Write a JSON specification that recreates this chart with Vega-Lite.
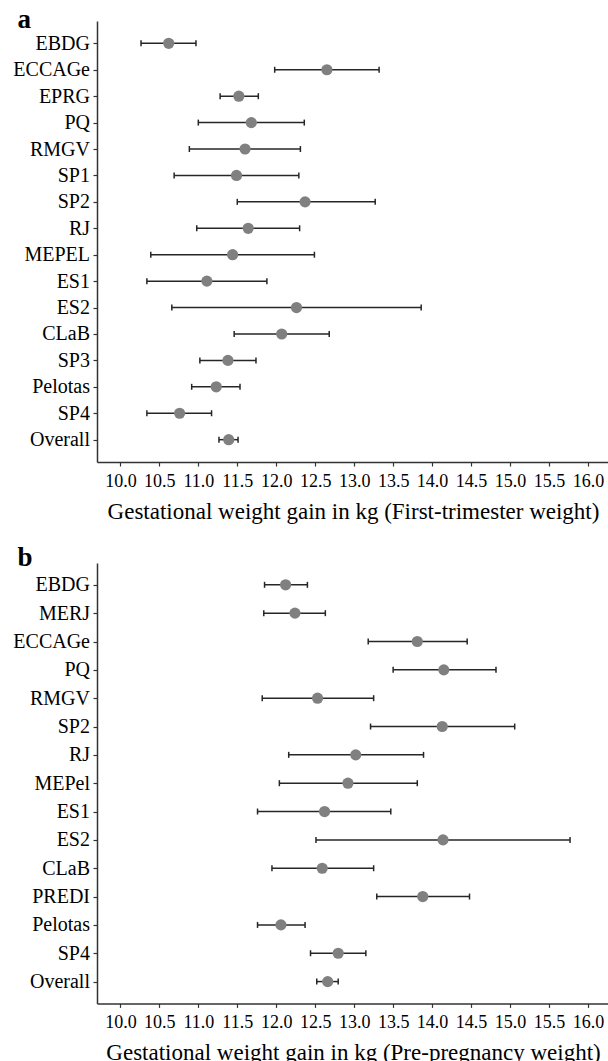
{
  "$schema": "https://vega.github.io/schema/vega-lite/v6.json",
  "padding": {"left": 12, "top": 5, "right": 0, "bottom": 0},
  "background": "white",
  "datasets": {
    "first": [
      {"site": "EBDG", "est": 10.62, "lo": 10.265, "hi": 10.97},
      {"site": "ECCAGe", "est": 12.65, "lo": 11.98, "hi": 13.32},
      {"site": "EPRG", "est": 11.52, "lo": 11.28, "hi": 11.77},
      {"site": "PQ", "est": 11.68, "lo": 11.0, "hi": 12.36},
      {"site": "RMGV", "est": 11.6, "lo": 10.885, "hi": 12.31},
      {"site": "SP1", "est": 11.49, "lo": 10.69, "hi": 12.29},
      {"site": "SP2", "est": 12.37, "lo": 11.5, "hi": 13.27},
      {"site": "RJ", "est": 11.64, "lo": 10.98, "hi": 12.3},
      {"site": "MEPEL", "est": 11.44, "lo": 10.39, "hi": 12.49},
      {"site": "ES1", "est": 11.11, "lo": 10.34, "hi": 11.88},
      {"site": "ES2", "est": 12.26, "lo": 10.66, "hi": 13.86},
      {"site": "CLaB", "est": 12.07, "lo": 11.46, "hi": 12.68},
      {"site": "SP3", "est": 11.38, "lo": 11.02, "hi": 11.74},
      {"site": "Pelotas", "est": 11.23, "lo": 10.915, "hi": 11.535},
      {"site": "SP4", "est": 10.76, "lo": 10.34, "hi": 11.17},
      {"site": "Overall", "est": 11.39, "lo": 11.265, "hi": 11.51}
    ],
    "pre": [
      {"site": "EBDG", "est": 12.12, "lo": 11.85, "hi": 12.4},
      {"site": "MERJ", "est": 12.24, "lo": 11.84, "hi": 12.63},
      {"site": "ECCAGe", "est": 13.81, "lo": 13.18, "hi": 14.45},
      {"site": "PQ", "est": 14.15, "lo": 13.5, "hi": 14.82},
      {"site": "RMGV", "est": 12.53, "lo": 11.82, "hi": 13.25},
      {"site": "SP2", "est": 14.13, "lo": 13.21, "hi": 15.06},
      {"site": "RJ", "est": 13.02, "lo": 12.16, "hi": 13.89},
      {"site": "MEPel", "est": 12.92, "lo": 12.04, "hi": 13.81},
      {"site": "ES1", "est": 12.62, "lo": 11.76, "hi": 13.47},
      {"site": "ES2", "est": 14.14, "lo": 12.51, "hi": 15.77},
      {"site": "CLaB", "est": 12.59, "lo": 11.945, "hi": 13.25},
      {"site": "PREDI", "est": 13.88, "lo": 13.29, "hi": 14.48},
      {"site": "Pelotas", "est": 12.06, "lo": 11.76, "hi": 12.37},
      {"site": "SP4", "est": 12.795, "lo": 12.44, "hi": 13.15},
      {"site": "Overall", "est": 12.66, "lo": 12.52, "hi": 12.795}
    ]
  },
  "spacing": 101,
  "bounds": "flush",
  "vconcat": [
    {
      "width": 512,
      "height": 441,
      "data": {"name": "first"},
      "encoding": {
        "y": {"field": "site", "type": "nominal", "sort": null,
              "scale": {"type": "point", "padding": 0.845},
              "axis": {"title": "a", "titleY": 6.7}}
      },
      "layer": [
        {"mark": {"type": "rule", "color": "#262626", "strokeWidth": 1.5},
         "encoding": {
           "x": {"field": "lo", "type": "quantitative", "title": "Gestational weight gain in kg (First-trimester weight)",
                 "scale": {"domain": [9.7, 16.27], "nice": false, "zero": false},
                 "axis": {"values": [10, 10.5, 11, 11.5, 12, 12.5, 13, 13.5, 14, 14.5, 15, 15.5, 16], "format": ".1f"}},
           "x2": {"field": "hi"}}},
        {"mark": {"type": "tick", "size": 6, "thickness": 1.5, "color": "#262626", "opacity": 1},
         "encoding": {"x": {"field": "lo", "type": "quantitative", "title": "Gestational weight gain in kg (First-trimester weight)"}}},
        {"mark": {"type": "tick", "size": 6, "thickness": 1.5, "color": "#262626", "opacity": 1},
         "encoding": {"x": {"field": "hi", "type": "quantitative", "title": "Gestational weight gain in kg (First-trimester weight)"}}},
        {"mark": {"type": "point", "filled": true, "size": 125, "color": "#808080", "opacity": 1},
         "encoding": {"x": {"field": "est", "type": "quantitative", "title": "Gestational weight gain in kg (First-trimester weight)"}}}
      ]
    },
    {
      "width": 512,
      "height": 440.4,
      "data": {"name": "pre"},
      "encoding": {
        "y": {"field": "site", "type": "nominal", "sort": null,
              "scale": {"type": "point", "padding": 0.77},
              "axis": {"title": "b", "titleY": 2}}
      },
      "layer": [
        {"mark": {"type": "rule", "color": "#262626", "strokeWidth": 1.5},
         "encoding": {
           "x": {"field": "lo", "type": "quantitative", "title": "Gestational weight gain in kg (Pre-pregnancy weight)",
                 "scale": {"domain": [9.7, 16.27], "nice": false, "zero": false},
                 "axis": {"values": [10, 10.5, 11, 11.5, 12, 12.5, 13, 13.5, 14, 14.5, 15, 15.5, 16], "format": ".1f"}},
           "x2": {"field": "hi"}}},
        {"mark": {"type": "tick", "size": 6, "thickness": 1.5, "color": "#262626", "opacity": 1},
         "encoding": {"x": {"field": "lo", "type": "quantitative", "title": "Gestational weight gain in kg (Pre-pregnancy weight)"}}},
        {"mark": {"type": "tick", "size": 6, "thickness": 1.5, "color": "#262626", "opacity": 1},
         "encoding": {"x": {"field": "hi", "type": "quantitative", "title": "Gestational weight gain in kg (Pre-pregnancy weight)"}}},
        {"mark": {"type": "point", "filled": true, "size": 125, "color": "#808080", "opacity": 1},
         "encoding": {"x": {"field": "est", "type": "quantitative", "title": "Gestational weight gain in kg (Pre-pregnancy weight)"}}}
      ]
    }
  ],
  "config": {
    "view": {"stroke": null},
    "font": "Times New Roman, Liberation Serif, serif",
    "axis": {
      "grid": false, "domainColor": "#333333", "domainWidth": 1.5,
      "tickColor": "#333333", "tickWidth": 1.2, "tickSize": 4,
      "labelFont": "Times New Roman, Liberation Serif, serif", "labelColor": "#000000",
      "titleFont": "Times New Roman, Liberation Serif, serif", "titleFontWeight": "normal", "titleColor": "#000000"
    },
    "axisX": {"labelFontSize": 18, "titleFontSize": 23, "labelPadding": 6, "titlePadding": 10, "labelFlush": false, "labelOverlap": false},
    "axisY": {"labelFontSize": 20, "labelPadding": 3.5, "titleFontSize": 27, "titleFontWeight": "bold",
              "titleAngle": 0, "titleAlign": "left", "titleBaseline": "alphabetic", "titleX": -80}
  }
}
